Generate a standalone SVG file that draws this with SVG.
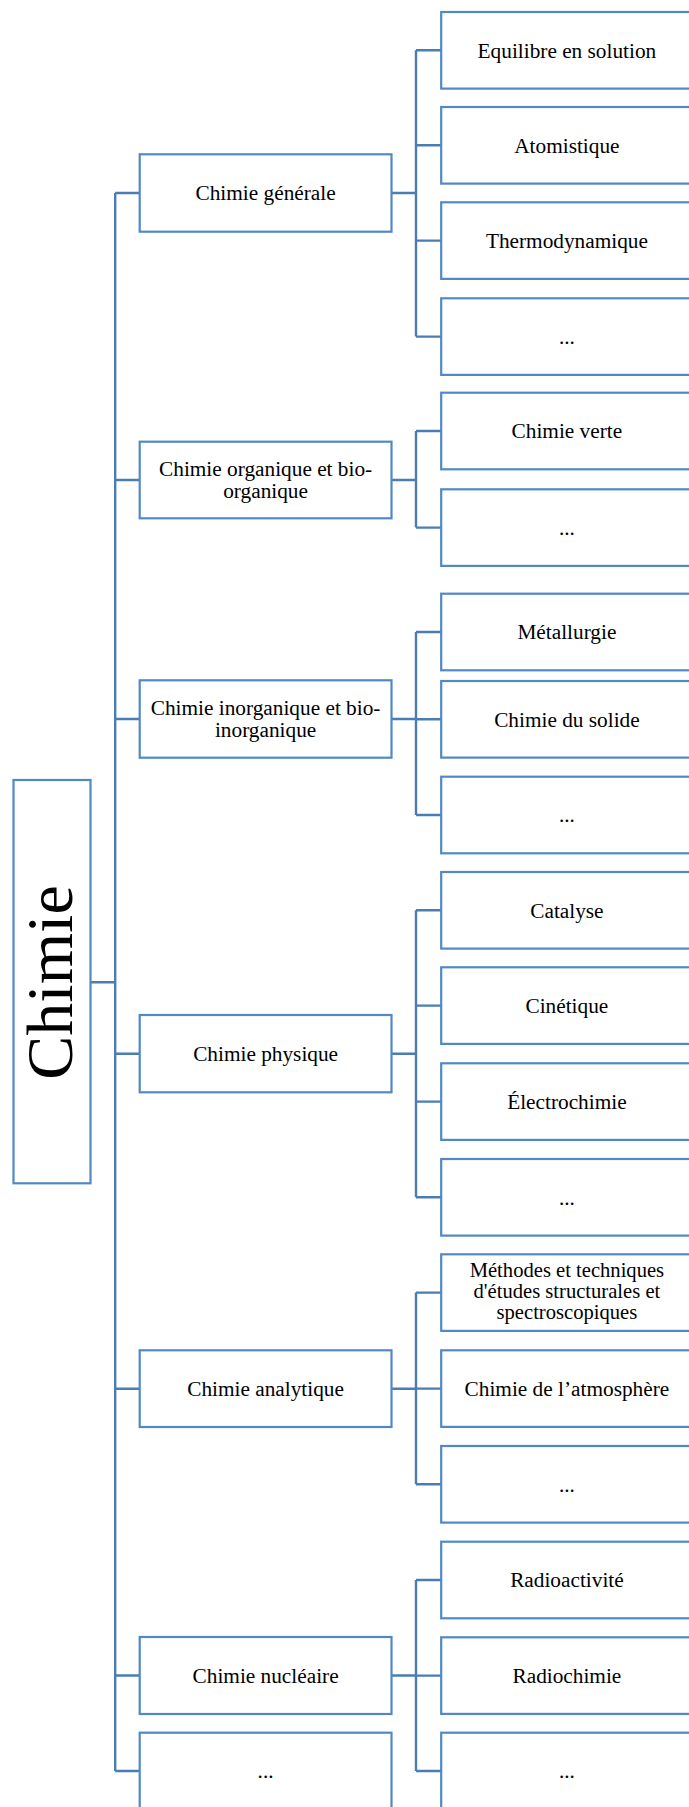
<svg xmlns="http://www.w3.org/2000/svg" width="689" height="1807" viewBox="0 0 689 1807">
<style>
.box{fill:#ffffff;stroke:#5089C4;stroke-width:2.2}
.lnk{fill:none;stroke:#4A7DB4;stroke-width:2.4}
.t{font-family:"Liberation Serif","Times New Roman",serif;font-size:21.3px;fill:#000;text-anchor:middle}
.s{font-size:20.6px}
.root{font-family:"Liberation Serif","Times New Roman",serif;font-size:66px;fill:#000;text-anchor:middle}
</style>
<rect width="689" height="1807" fill="#ffffff"/>
<g id="connectors">
<path class="lnk" d="M90.6,982.3H115.2M115.2,193V1771M115.2,193H139.7M115.2,480H139.7M115.2,719H139.7M115.2,1053.7H139.7M115.2,1388.7H139.7M115.2,1675.5H139.7M115.2,1771H139.7"/>
<path class="lnk" d="M391.5,193H416M416,50.3V336.6M416,50.3H441.2M416,145.3H441.2M416,240.6H441.2M416,336.6H441.2"/>
<path class="lnk" d="M391.5,480H416M416,431V527.6M416,431H441.2M416,527.6H441.2"/>
<path class="lnk" d="M391.5,719H416M416,632V815M416,632H441.2M416,719.3H441.2M416,815H441.2"/>
<path class="lnk" d="M391.5,1053.7H416M416,910.3V1197.3M416,910.3H441.2M416,1005.6H441.2M416,1101.6H441.2M416,1197.3H441.2"/>
<path class="lnk" d="M391.5,1388.7H416M416,1292.6V1484.3M416,1292.6H441.2M416,1388.6H441.2M416,1484.3H441.2"/>
<path class="lnk" d="M391.5,1675.5H416M416,1580V1771M416,1580H441.2M416,1675.6H441.2M416,1771H441.2"/>
</g>
<g id="root"><rect class="box" x="13.5" y="780" width="77" height="403.3"/><text class="root" transform="translate(71.5,982.5) rotate(-90)">Chimie</text></g>
<g id="n-generale"><rect class="box" x="139.7" y="154.3" width="251.8" height="77.4"/><text class="t" x="265.6" y="200.2">Chimie générale</text></g>
<g id="n-organique"><rect class="box" x="139.7" y="441.7" width="251.8" height="76.6"/><text class="t" x="265.6" y="476">Chimie organique et bio-</text><text class="t" x="265.6" y="497.8">organique</text></g>
<g id="n-inorganique"><rect class="box" x="139.7" y="680.3" width="251.8" height="77.4"/><text class="t" x="265.6" y="714.5">Chimie inorganique et bio-</text><text class="t" x="265.6" y="736.5">inorganique</text></g>
<g id="n-physique"><rect class="box" x="139.7" y="1015" width="251.8" height="77.3"/><text class="t" x="265.6" y="1060.9">Chimie physique</text></g>
<g id="n-analytique"><rect class="box" x="139.7" y="1350.3" width="251.8" height="76.7"/><text class="t" x="265.6" y="1395.8">Chimie analytique</text></g>
<g id="n-nucleaire"><rect class="box" x="139.7" y="1637" width="251.8" height="77"/><text class="t" x="265.6" y="1682.6">Chimie nucléaire</text></g>
<g id="n-etc"><rect class="box" x="139.7" y="1732.7" width="251.8" height="77"/><text class="t" x="265.6" y="1778">...</text></g>
<g id="c-equilibre"><rect class="box" x="441.2" y="12" width="251.8" height="76.6"/><text class="t" x="566.9" y="57.5">Equilibre en solution</text></g>
<g id="c-atomistique"><rect class="box" x="441.2" y="107" width="251.8" height="76.6"/><text class="t" x="566.9" y="152.5">Atomistique</text></g>
<g id="c-thermo"><rect class="box" x="441.2" y="202.3" width="251.8" height="76.6"/><text class="t" x="566.9" y="247.8">Thermodynamique</text></g>
<g id="c-etc1"><rect class="box" x="441.2" y="298.3" width="251.8" height="76.6"/><text class="t" x="566.9" y="343.8">...</text></g>
<g id="c-verte"><rect class="box" x="441.2" y="392.7" width="251.8" height="76.6"/><text class="t" x="566.9" y="438.2">Chimie verte</text></g>
<g id="c-etc2"><rect class="box" x="441.2" y="489.3" width="251.8" height="76.6"/><text class="t" x="566.9" y="534.8">...</text></g>
<g id="c-metallurgie"><rect class="box" x="441.2" y="593.7" width="251.8" height="76.6"/><text class="t" x="566.9" y="639.2">Métallurgie</text></g>
<g id="c-solide"><rect class="box" x="441.2" y="681" width="251.8" height="76.6"/><text class="t" x="566.9" y="726.5">Chimie du solide</text></g>
<g id="c-etc3"><rect class="box" x="441.2" y="776.7" width="251.8" height="76.6"/><text class="t" x="566.9" y="822.2">...</text></g>
<g id="c-catalyse"><rect class="box" x="441.2" y="872" width="251.8" height="76.6"/><text class="t" x="566.9" y="917.5">Catalyse</text></g>
<g id="c-cinetique"><rect class="box" x="441.2" y="967.3" width="251.8" height="76.6"/><text class="t" x="566.9" y="1012.8">Cinétique</text></g>
<g id="c-electro"><rect class="box" x="441.2" y="1063.3" width="251.8" height="76.6"/><text class="t" x="566.9" y="1108.8">Électrochimie</text></g>
<g id="c-etc4"><rect class="box" x="441.2" y="1159" width="251.8" height="76.6"/><text class="t" x="566.9" y="1204.5">...</text></g>
<g id="c-methodes"><rect class="box" x="441.2" y="1254.3" width="251.8" height="76.6"/><text class="t s" x="566.9" y="1277.3">Méthodes et techniques</text><text class="t s" x="566.9" y="1298.3">d'études structurales et</text><text class="t s" x="566.9" y="1319.3">spectroscopiques</text></g>
<g id="c-atmosphere"><rect class="box" x="441.2" y="1350.3" width="251.8" height="76.6"/><text class="t" x="566.9" y="1395.8">Chimie de l’atmosphère</text></g>
<g id="c-etc5"><rect class="box" x="441.2" y="1446" width="251.8" height="76.6"/><text class="t" x="566.9" y="1491.5">...</text></g>
<g id="c-radioactivite"><rect class="box" x="441.2" y="1541.7" width="251.8" height="76.6"/><text class="t" x="566.9" y="1587.2">Radioactivité</text></g>
<g id="c-radiochimie"><rect class="box" x="441.2" y="1637.3" width="251.8" height="76.6"/><text class="t" x="566.9" y="1682.8">Radiochimie</text></g>
<g id="c-etc6"><rect class="box" x="441.2" y="1732.7" width="251.8" height="76.6"/><text class="t" x="566.9" y="1778">...</text></g>
</svg>
